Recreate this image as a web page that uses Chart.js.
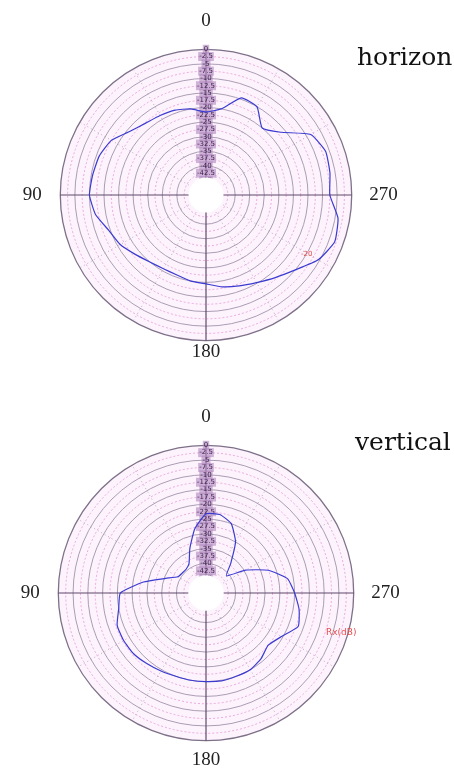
<!DOCTYPE html>
<html>
<head>
<meta charset="utf-8">
<script src="https://cdn.jsdelivr.net/npm/chart.js@4.4.0/dist/chart.umd.min.js"></script>
<style>
  body { margin:0; background:#fff; width:454px; height:776px; overflow:hidden; position:relative; }
  .caja { position:absolute; left:0; width:422px; }
  #cajaH { top:2px; height:371px; }
  #cajaV { top:402px; height:375px; }
  .titulo { position:absolute; font-family:"DejaVu Serif"; font-size:25px; line-height:25px; color:#111; }
  .nota { position:absolute; font-family:"DejaVu Sans"; color:#e45050; }
</style>
</head>
<body>
<div class="caja" id="cajaH"><canvas id="canvasH"></canvas></div>
<div class="caja" id="cajaV"><canvas id="canvasV"></canvas></div>
<div class="titulo" style="left:357px; top:44px;">horizon</div>
<div class="titulo" style="left:355px; top:429px;">vertical</div>
<div class="nota" style="left:301px; top:250px; font-size:7px;">-20</div>
<div class="nota" style="left:326px; top:627px; font-size:9px;">Rx(dB)</div>
<script>
// angulos en grados, 0 arriba, 90 a la izquierda (sentido antihorario)
var angulos = [0,10,20,30,40,50,60,70,80,90,100,110,120,130,140,150,160,170,
               180,190,200,210,220,230,240,250,260,270,280,290,300,310,320,330,340,350];

// patron horizontal (dB)
var horizontal = [-21.5,-20,-19,-18.5,-17.8,-16,-12.5,-11,-10.5,-10,-11.5,-14.5,
                  -16,-18.3,-20,-20.8,-20.8,-20,-19.5,-18,-16.8,-15.3,-13,-10,
                  -5.5,-3,-4,-7.5,-6.8,-6.3,-8.5,-16.5,-20,-15,-14.5,-20];

// patron vertical (dB)
var vertical = [-23.2,-28,-34,-38.5,-39.5,-39.5,-39,-35.5,-28.5,-21,-20,-18,
                -17.8,-18,-18.8,-19.5,-20,-20,-20,-19.8,-20,-20,-21,-22.5,
                -20.5,-16.8,-18,-20,-22,-27.5,-34.5,-41,-37,-30,-25,-23];

var etiquetasEje = ['0', '90', '180', '270'];
var escalaMin = -50;
var escalaMax = 0;
var paso = 2.5;
var hueco = -44; // radio del circulo blanco central

var fondoPolar = {
  id: 'fondoPolar',
  beforeDraw: function (chart) {
    var r = chart.scales.r;
    var ctx = chart.ctx;
    ctx.save();
    ctx.fillStyle = '#fdf3fc';
    ctx.beginPath();
    ctx.arc(r.xCenter, r.yCenter, r.drawingArea, 0, Math.PI * 2);
    ctx.fill();
    ctx.restore();
  },
  afterDatasetsDraw: function (chart) {
    var r = chart.scales.r;
    var ctx = chart.ctx;
    ctx.save();
    ctx.fillStyle = '#ffffff';
    ctx.beginPath();
    ctx.arc(r.xCenter, r.yCenter, r.getDistanceFromCenterForValue(hueco), 0, Math.PI * 2);
    ctx.fill();
    ctx.restore();
  }
};

function crearPolar(id, valores, padArriba, padAbajo) {
  // radar va en sentido horario, los angulos del grafico en antihorario
  var n = angulos.length;
  var labels = [];
  var datos = [];
  for (var k = 0; k < n; k++) {
    var j = (n - k) % n;
    labels.push(String(angulos[j]));
    datos.push(valores[j]);
  }
  var cuarto = n / 4;

  return new Chart(document.getElementById(id).getContext('2d'), {
    type: 'radar',
    data: {
      labels: labels,
      datasets: [{
        data: datos,
        borderColor: '#3b3bd2',
        borderWidth: 1.2,
        pointRadius: 0,
        fill: false,
        tension: 0.15
      }]
    },
    options: {
      responsive: true,
      maintainAspectRatio: false,
      animation: false,
      plugins: { legend: { display: false }, tooltip: { enabled: false } },
      scales: {
        r: {
          min: escalaMin,
          max: escalaMax,
          ticks: {
            stepSize: paso,
            font: { family: 'DejaVu Sans', size: 7 },
            color: '#3a1f4a',
            backdropColor: 'rgba(175,135,190,0.6)',
            backdropPadding: 1
          },
          grid: {
            circular: true,
            color: function (c) {
              if (c.index === 20) return '#7d7088';
              return c.index % 2 === 0 ? '#a093ac' : '#e8a2da';
            },
            lineWidth: function (c) { return c.index === 20 ? 1.3 : 0.9; }
          },
          border: {
            dash: function (c) { return c.index % 2 === 0 ? [] : [2, 2]; }
          },
          angleLines: {
            color: function (c) { return c.index % cuarto === 0 ? '#5e4a6c' : '#a898b4'; },
            lineWidth: function (c) {
              if (c.index % cuarto === 0) return 1.2;
              return c.index % 3 === 0 ? 0.8 : 0;
            },
            borderDash: function (c) { return c.index % cuarto === 0 ? [] : [1, 3]; }
          },
          pointLabels: {
            callback: function (label) {
              return etiquetasEje.indexOf(label) >= 0 ? label : '';
            },
            color: '#222',
            font: function (c) {
              return { family: 'Liberation Serif', size: c.index % cuarto === 0 ? 19 : 1 };
            },
            padding: function (c) {
              if (c.index === 0) return padArriba;
              if (c.index === 2 * cuarto) return padAbajo;
              if (c.index === cuarto) return 13;
              if (c.index === 3 * cuarto) return 14;
              return 0;
            }
          }
        }
      }
    },
    plugins: [fondoPolar]
  });
}

crearPolar('canvasH', horizontal, 12, -5);
crearPolar('canvasV', vertical, 12, 3);
</script>
</body>
</html>
